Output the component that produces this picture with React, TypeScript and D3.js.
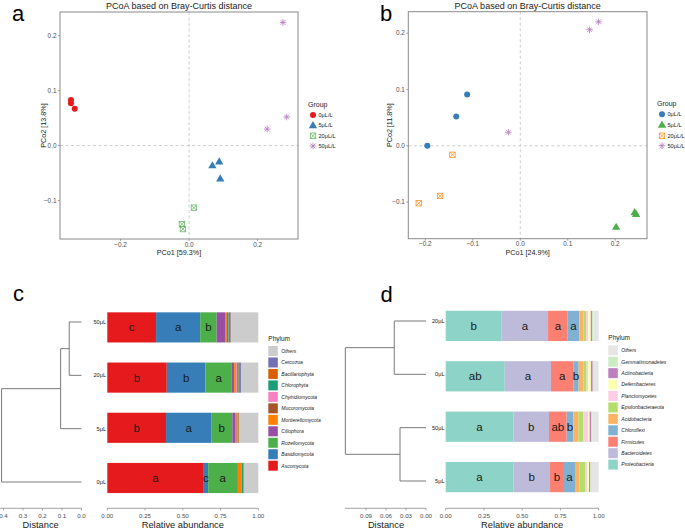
import React from 'react';
import * as d3 from 'd3';

const FONT = '"Liberation Sans", Arial, sans-serif';

// ---------- PCoA data ----------
const groupNames = ['0μL/L', '5μL/L', '20μL/L', '50μL/L'];
const groupLabels = ['0μL', '5μL', '20μL', '50μL'];
const shapes = ['circle', 'triangle', 'squareX', 'asterisk'];

const aColors = ['#e41a1c', '#377eb8', '#4daf4a', '#984ea3'];
const aGroup = [0, 0, 0, 1, 1, 1, 2, 2, 2, 3, 3, 3];
const aX = [-0.345, -0.345, -0.334, 0.068, 0.088, 0.091, 0.014, -0.021, -0.018, 0.274, 0.285, 0.228];
const aY = [0.083, 0.077, 0.067, -0.036, -0.029, -0.060, -0.113, -0.143, -0.152, 0.224, 0.052, 0.030];
const aXTicks = [-0.2, 0, 0.2];
const aYTicks = [-0.1, 0, 0.1, 0.2];

const bColors = ['#377eb8', '#4daf4a', '#ff7f00', '#984ea3'];
const bGroup = [0, 0, 0, 1, 1, 1, 2, 2, 2, 3, 3, 3];
const bX = [-0.196, -0.135, -0.112, 0.202, 0.241, 0.244, -0.143, -0.169, -0.214, -0.025, 0.146, 0.165];
const bY = [0.0, 0.052, 0.091, -0.144, -0.118, -0.121, -0.016, -0.089, -0.102, 0.024, 0.206, 0.220];
const bXTicks = [-0.2, -0.1, 0, 0.1, 0.2];
const bYTicks = [-0.1, 0, 0.1, 0.2];

// ---------- Panel c data (fungi) ----------
const cPhyla = ['Ascomycota', 'Basidiomycota', 'Rozellomycota', 'Ciliophora', 'Mortierellomycota', 'Mucoromycota', 'Chytridiomycota', 'Chlorophyta', 'Bacillariophyta', 'Cercozoa', 'Others'];
const cColors = ['#e41a1c', '#377eb8', '#4daf4a', '#984ea3', '#ff7f00', '#a65628', '#f781bf', '#1b9e77', '#d95f02', '#7570b3', '#cccccc'];
const cSamples = ['50μL', '20μL', '5μL', '0μL'];
const c50 = [0.323, 0.292, 0.109, 0.056, 0.011, 0.008, 0.003, 0.004, 0.010, 0.004, 0.180];
const c20 = [0.394, 0.256, 0.175, 0.015, 0.010, 0.004, 0.006, 0.010, 0.008, 0.007, 0.115];
const c5 = [0.389, 0.299, 0.140, 0.018, 0.008, 0.004, 0.004, 0.006, 0.004, 0.003, 0.125];
const c0 = [0.639, 0.029, 0.191, 0.005, 0.022, 0.004, 0.002, 0.008, 0.003, 0.002, 0.095];
const cLetters50 = ['c', 'a', 'b'];
const cLetters20 = ['b', 'b', 'a'];
const cLetters5 = ['b', 'a', 'b'];
const cLetters0 = ['a', 'c', 'a'];
const cDendroLeaves = ['50μL', '20μL', '5μL', '0μL'];
const cMerges: [number, number, number][] = [[0, 1, 0.063], [4, 2, 0.107], [5, 3, 0.41]];
const cDistTicks = [0.4, 0.3, 0.2, 0.1, 0.0];

// ---------- Panel d data (bacteria) ----------
const dPhyla = ['Proteobacteria', 'Bacteroidetes', 'Firmicutes', 'Chloroflexi', 'Acidobacteria', 'Epsilonbacteraeota', 'Planctomycetes', 'Deferribacteres', 'Actinobacteria', 'Gemmatimonadetes', 'Others'];
const dColors = ['#8dd3c7', '#bebada', '#fb8072', '#80b1d3', '#fdb462', '#b3de69', '#fccde5', '#ffffb3', '#bc80bd', '#ccebc5', '#e5e5e5'];
const dSamples = ['20μL', '0μL', '50μL', '5μL'];
const d20 = [0.366, 0.303, 0.128, 0.076, 0.026, 0.018, 0.015, 0.016, 0.008, 0.008, 0.036];
const d0 = [0.386, 0.302, 0.146, 0.035, 0.030, 0.022, 0.012, 0.016, 0.012, 0.007, 0.032];
const d50 = [0.442, 0.233, 0.116, 0.043, 0.033, 0.032, 0.033, 0.009, 0.009, 0.010, 0.040];
const d5 = [0.442, 0.240, 0.091, 0.072, 0.028, 0.038, 0.014, 0.012, 0.008, 0.010, 0.045];
const dLetters20 = ['b', 'a', 'a', 'a'];
const dLetters0 = ['ab', 'a', 'a', 'b'];
const dLetters50 = ['a', 'b', 'ab', 'b'];
const dLetters5 = ['a', 'b', 'b', 'a'];
const dDendroLeaves = ['20μL', '0μL', '50μL', '5μL'];
const dMerges: [number, number, number][] = [[0, 1, 0.0476], [2, 3, 0.039], [4, 5, 0.121]];
const dDistTicks = [0.09, 0.06, 0.03, 0.0];

const barTicks = [0, 0.25, 0.5, 0.75, 1];

// ---------- Helpers ----------
function Marker({ shape, x, y, color }: { shape: string; x: number; y: number; color: string }) {
  if (shape === 'circle') return <circle cx={x} cy={y} r={3} fill={color} />;
  if (shape === 'triangle') {
    const p = d3.symbol(d3.symbolTriangle, 30)();
    return <path d={p as string} transform={`translate(${x},${y + 0.6})`} fill={color} />;
  }
  if (shape === 'squareX') {
    const s = 2.7;
    return (
      <g stroke={color} strokeWidth={0.8} fill="none" opacity={0.85}>
        <rect x={x - s} y={y - s} width={2 * s} height={2 * s} />
        <line x1={x - s} y1={y - s} x2={x + s} y2={y + s} />
        <line x1={x - s} y1={y + s} x2={x + s} y2={y - s} />
      </g>
    );
  }
  const s = 3.3;
  const d = s * 0.72;
  return (
    <g stroke={color} strokeWidth={0.8} opacity={0.75}>
      <line x1={x - s} y1={y} x2={x + s} y2={y} />
      <line x1={x} y1={y - s} x2={x} y2={y + s} />
      <line x1={x - d} y1={y - d} x2={x + d} y2={y + d} />
      <line x1={x - d} y1={y + d} x2={x + d} y2={y - d} />
    </g>
  );
}

const fmt1 = (v: number) => (Math.abs(v) < 1e-9 ? '0.0' : d3.format('.1f')(v));

function PCoA(props: {
  x0: number; x1: number; y0: number; y1: number;
  xd: [number, number]; yd: [number, number];
  xt: number[]; yt: number[];
  gx: number[]; gy: number[]; gg: number[]; colors: string[];
  xlab: string; ylab: string; ylabX: number; letter: string; letterX: number;
  legX: number; legY: number[]; legTitleY: number;
}) {
  const x = d3.scaleLinear().domain(props.xd).range([props.x0, props.x1]);
  const y = d3.scaleLinear().domain(props.yd).range([props.y1, props.y0]);
  const cx = (props.x0 + props.x1) / 2;
  const cy = (props.y0 + props.y1) / 2;
  return (
    <g fontFamily={FONT}>
      <text x={props.letterX} y={21} fontSize={22}>{props.letter}</text>
      <text x={cx} y={9} fontSize={9} textAnchor="middle" fill="#1a1a1a">PCoA based on Bray-Curtis distance</text>
      <line x1={x(0)} x2={x(0)} y1={props.y0} y2={props.y1} stroke="#c8c8c8" strokeDasharray="3,2.5" strokeWidth={0.9} />
      <line x1={props.x0} x2={props.x1} y1={y(0)} y2={y(0)} stroke="#c8c8c8" strokeDasharray="3,2.5" strokeWidth={0.9} />
      <rect x={props.x0} y={props.y0} width={props.x1 - props.x0} height={props.y1 - props.y0} fill="none" stroke="#8a8a8a" strokeWidth={1} />
      {props.xt.map((t) => (
        <g key={'x' + t}>
          <line x1={x(t)} x2={x(t)} y1={props.y1} y2={props.y1 + 2} stroke="#8a8a8a" strokeWidth={0.8} />
          <text x={x(t)} y={props.y1 + 7.5} fontSize={6.4} textAnchor="middle" fill="#4d4d4d">{fmt1(t)}</text>
        </g>
      ))}
      {props.yt.map((t) => (
        <g key={'y' + t}>
          <line x1={props.x0 - 2} x2={props.x0} y1={y(t)} y2={y(t)} stroke="#8a8a8a" strokeWidth={0.8} />
          <text x={props.x0 - 3.5} y={y(t) + 2.2} fontSize={6.4} textAnchor="end" fill="#4d4d4d">{fmt1(t)}</text>
        </g>
      ))}
      <text x={cx} y={props.y1 + 16} fontSize={7.2} textAnchor="middle" fill="#1a1a1a">{props.xlab}</text>
      <text transform={`translate(${props.ylabX},${cy}) rotate(-90)`} fontSize={7.2} textAnchor="middle" fill="#1a1a1a">{props.ylab}</text>
      {props.gx.map((v, i) => (
        <Marker key={i} shape={shapes[props.gg[i]]} x={x(v)} y={y(props.gy[i])} color={props.colors[props.gg[i]]} />
      ))}
      <text x={props.legX - 5} y={props.legTitleY} fontSize={7} fill="#1a1a1a">Group</text>
      {groupNames.map((g, i) => (
        <g key={g}>
          <Marker shape={shapes[i]} x={props.legX} y={props.legY[i]} color={props.colors[i]} />
          <text x={props.legX + 5.5} y={props.legY[i] + 2} fontSize={5.6} fill="#1a1a1a">{g}</text>
        </g>
      ))}
    </g>
  );
}

function Dendro(props: {
  leaves: string[]; merges: [number, number, number][];
  dist: d3.ScaleLinear<number, number>; y0: number; y1: number;
  labelX: number; ticks: number[]; tickFmt: (v: number) => string;
  axisX0: number; axisX1: number; titleX: number;
}) {
  const yp = d3.scalePoint<string>().domain(props.leaves).range([props.y0, props.y1]);
  const n = props.leaves.length;
  const nx: number[] = [];
  const ny: number[] = [];
  props.leaves.forEach((l, i) => { nx[i] = props.dist(0); ny[i] = yp(l) as number; });
  const segs: [number, number, number, number][] = [];
  props.merges.forEach(([a, b, h], k) => {
    const xh = props.dist(h);
    segs.push([xh, ny[a], xh, ny[b]]);
    segs.push([xh, ny[a], nx[a], ny[a]]);
    segs.push([xh, ny[b], nx[b], ny[b]]);
    nx[n + k] = xh;
    ny[n + k] = (ny[a] + ny[b]) / 2;
  });
  return (
    <g fontFamily={FONT}>
      {segs.map((s, i) => (
        <line key={i} x1={s[0]} y1={s[1]} x2={s[2]} y2={s[3]} stroke="#7a7a7a" strokeWidth={1} />
      ))}
      {props.leaves.map((l) => (
        <text key={l} x={props.labelX} y={(yp(l) as number) + 2} fontSize={5.6} textAnchor="end" fill="#1a1a1a">{l}</text>
      ))}
      <line x1={props.axisX0} x2={props.axisX1} y1={508.3} y2={508.3} stroke="#8a8a8a" strokeWidth={0.8} />
      {props.ticks.map((t) => (
        <g key={t}>
          <line x1={props.dist(t)} x2={props.dist(t)} y1={508.3} y2={510.3} stroke="#8a8a8a" strokeWidth={0.8} />
          <text x={props.dist(t)} y={518} fontSize={6.2} textAnchor="middle" fill="#4d4d4d">{props.tickFmt(t)}</text>
        </g>
      ))}
      <text x={props.titleX} y={528} fontSize={9.3} textAnchor="middle" fill="#1a1a1a">Distance</text>
    </g>
  );
}

function Bars(props: {
  samples: string[]; values: number[][]; letters: string[][]; colors: string[]; phyla: string[];
  x0: number; x1: number; r0: number; r1: number; legX: number; legTitleY: number; legY0: number; legStep: number;
}) {
  const x = d3.scaleLinear().domain([0, 1]).range([props.x0, props.x1]);
  const y = d3.scaleBand<string>().domain(props.samples).range([props.r0, props.r1]).paddingInner(0.4).paddingOuter(0.2);
  const legendOrder = props.phyla.map((p, i) => i).reverse();
  return (
    <g fontFamily={FONT}>
      {props.samples.map((s, si) => {
        const vals = props.values[si];
        let acc = 0;
        const cums = vals.map((v) => { const st = acc; acc += v; return [st, acc]; });
        return (
          <g key={s}>
            {cums.map(([a, b], i) => (
              <rect key={i} x={x(a)} y={y(s)} width={Math.max(0, x(b) - x(a))} height={y.bandwidth()} fill={props.colors[i]} />
            ))}
            {props.letters[si].map((L, i) => (
              <text key={'l' + i} x={(x(cums[i][0]) + x(cums[i][1])) / 2} y={(y(s) as number) + y.bandwidth() / 2 + 4} fontSize={11.5} textAnchor="middle" fill="#1a1a1a">{L}</text>
            ))}
          </g>
        );
      })}
      <line x1={props.x0} x2={props.x1} y1={508.3} y2={508.3} stroke="#8a8a8a" strokeWidth={0.8} />
      {barTicks.map((t) => (
        <g key={t}>
          <line x1={x(t)} x2={x(t)} y1={508.3} y2={510.3} stroke="#8a8a8a" strokeWidth={0.8} />
          <text x={x(t)} y={518} fontSize={6.2} textAnchor="middle" fill="#4d4d4d">{d3.format('.2f')(t)}</text>
        </g>
      ))}
      <text x={(props.x0 + props.x1) / 2} y={528} fontSize={9.3} textAnchor="middle" fill="#1a1a1a">Relative abundance</text>
      <text x={props.legX} y={props.legTitleY} fontSize={6.5} fill="#1a1a1a">Phylum</text>
      {legendOrder.map((pi, k) => (
        <g key={pi}>
          <rect x={props.legX} y={props.legY0 + k * props.legStep - 5} width={9.5} height={10} fill={props.colors[pi]} />
          <text x={props.legX + 13} y={props.legY0 + k * props.legStep + 1.8} fontSize={5} fontStyle="italic" fill="#1a1a1a">{props.phyla[pi]}</text>
        </g>
      ))}
    </g>
  );
}

export default function App() {
  const distC = d3.scaleLinear().domain([0, 0.4]).range([81.5, 3.5]);
  const distD = d3.scaleLinear().domain([0, 0.09]).range([426, 366]);
  return (
    <svg width={685} height={529} style={{ position: 'absolute', left: 0, top: 0, background: '#fff' }}>
      <rect width={685} height={529} fill="#fff" />
      <PCoA x0={60} x1={298} y0={12} y1={239} xd={[-0.377, 0.318]} yd={[-0.170, 0.243]}
        xt={aXTicks} yt={aYTicks} gx={aX} gy={aY} gg={aGroup} colors={aColors}
        xlab="PCo1 [59.3%]" ylab="PCo2 [13.8%]" ylabX={45.5} letter="a" letterX={12}
        legX={313} legY={[115, 125.3, 135.7, 146]} legTitleY={106.5} />
      <PCoA x0={408.3} x1={647} y0={11.7} y1={238.7} xd={[-0.236, 0.267]} yd={[-0.165, 0.238]}
        xt={bXTicks} yt={bYTicks} gx={bX} gy={bY} gg={bGroup} colors={bColors}
        xlab="PCo1 [24.9%]" ylab="PCo2 [11.8%]" ylabX={392} letter="b" letterX={380}
        legX={662} legY={[114.3, 124.7, 135.7, 145.7]} legTitleY={105.5} />

      <text x={13} y={301} fontSize={22} fontFamily={FONT}>c</text>
      <Dendro leaves={cDendroLeaves} merges={cMerges} dist={distC} y0={322} y1={482}
        labelX={106} ticks={cDistTicks} tickFmt={(v) => d3.format('.1f')(v)} axisX0={0} axisX1={81.5} titleX={40.7} />
      <Bars samples={cSamples} values={[c50, c20, c5, c0]} letters={[cLetters50, cLetters20, cLetters5, cLetters0]}
        colors={cColors} phyla={cPhyla} x0={107.3} x1={258.3} r0={302.3} r1={503.1}
        legX={268.3} legTitleY={341.3} legY0={351} legStep={11.47} />

      <text x={380.5} y={302} fontSize={22} fontFamily={FONT}>d</text>
      <Dendro leaves={dDendroLeaves} merges={dMerges} dist={distD} y0={321} y1={481}
        labelX={444.5} ticks={dDistTicks} tickFmt={(v) => d3.format('.2f')(v)} axisX0={345} axisX1={426} titleX={386} />
      <Bars samples={dSamples} values={[d20, d0, d50, d5]} letters={[dLetters20, dLetters0, dLetters50, dLetters5]}
        colors={dColors} phyla={dPhyla} x0={445.7} x1={598.7} r0={300.7} r1={502.3}
        legX={608.3} legTitleY={340} legY0={350.3} legStep={11.43} />
    </svg>
  );
}
